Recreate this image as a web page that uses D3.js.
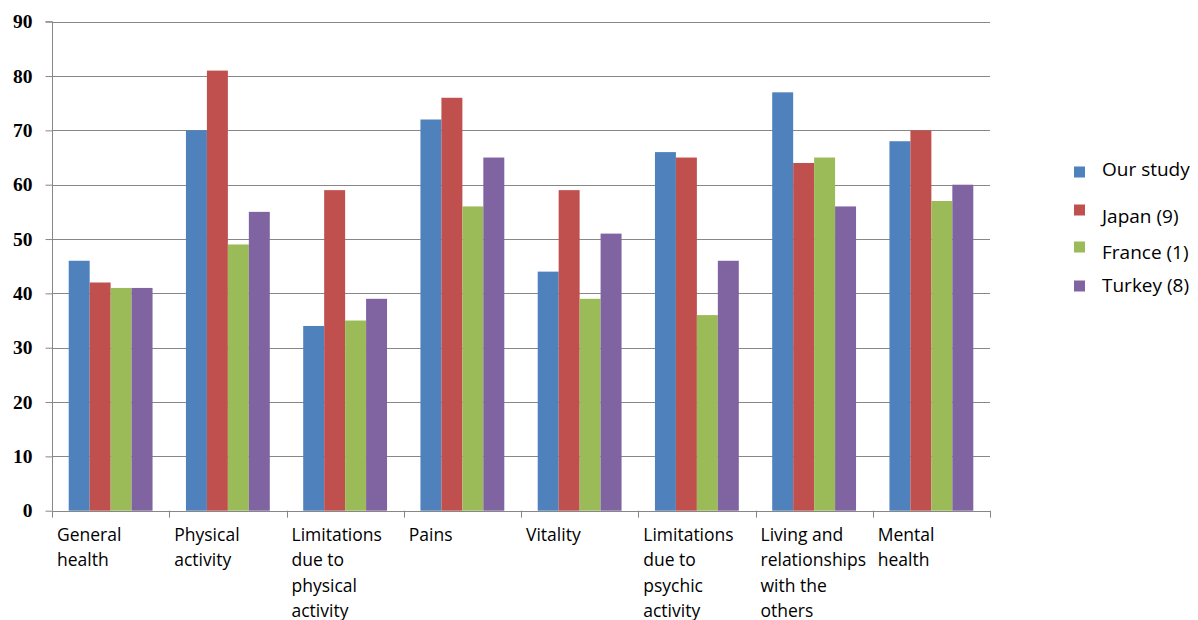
<!DOCTYPE html>
<html><head><meta charset="utf-8">
<script src="https://cdn.jsdelivr.net/npm/d3@7"></script>
<style>body{margin:0;background:#fff;} svg{display:block;}</style>
</head><body>
<svg id="c" width="1198" height="620"></svg>
<script>
const categories = [
  ["General","health"],
  ["Physical","activity"],
  ["Limitations","due to","physical","activity"],
  ["Pains"],
  ["Vitality"],
  ["Limitations","due to","psychic","activity"],
  ["Living and","relationships","with the","others"],
  ["Mental","health"]
];
const seriesNames = ["Our study","Japan (9)","France (1)","Turkey (8)"];
const ourStudy = [46,70,34,72,44,66,77,68];
const japan    = [42,81,59,76,59,65,64,70];
const france   = [41,49,35,56,39,36,65,57];
const turkey   = [41,55,39,65,51,46,56,60];
const yTicks = [0,10,20,30,40,50,60,70,80,90];
const colors = ["#4F81BD","#C0504D","#9BBB59","#8064A2"];

const series = [ourStudy, japan, france, turkey];
const svg = d3.select("#c");
const pLeft = 52, pRight = 990, pTop = 21.7, pBottom = 510.7;

const x = d3.scaleBand().domain(d3.range(categories.length)).range([pLeft, pRight]).paddingInner(0).paddingOuter(0);
const xs = d3.scaleBand().domain(d3.range(4)).range([16.7, x.bandwidth()-16.7]);
const y = d3.scaleLinear().domain([0,90]).range([pBottom, pTop]);

// gridlines
svg.append("g").selectAll("line").data(yTicks.filter(t=>t>0)).join("line")
  .attr("x1", pLeft).attr("x2", pRight)
  .attr("y1", d=>Math.round(y(d))+0.5).attr("y2", d=>Math.round(y(d))+0.5)
  .attr("stroke","#878787").attr("stroke-width",1);

// bars
const g = svg.append("g");
series.forEach((s, si) => {
  g.append("g").selectAll("rect").data(s).join("rect")
    .attr("x", (d,i)=> x(i) + xs(si))
    .attr("width", xs.bandwidth())
    .attr("y", d=>y(d))
    .attr("height", d=> pBottom - y(d))
    .attr("fill", colors[si]);
});

// y axis
const yAxis = d3.axisLeft(y).tickValues(yTicks).tickSize(7).tickPadding(13).tickFormat(d3.format("d"));
const ya = svg.append("g").attr("transform",`translate(${pLeft+0.5},0)`).call(yAxis);
ya.select(".domain").attr("stroke","#878787").attr("d",`M-7,${pTop}H0V${pBottom}`);
ya.selectAll(".tick line").attr("stroke","#878787");
ya.selectAll(".tick text").attr("font-family","'Liberation Serif', serif").attr("font-weight","bold")
  .attr("font-size","19.5px").attr("fill","#000");

// x axis
const bounds = d3.range(categories.length+1).map(i=> i<categories.length ? x(i) : pRight);
svg.append("line").attr("x1",pLeft).attr("x2",pRight).attr("y1",Math.round(pBottom)+0.5).attr("y2",Math.round(pBottom)+0.5)
  .attr("stroke","#878787");
svg.append("g").selectAll("line").data(bounds).join("line")
  .attr("x1",d=>Math.round(d)+0.5).attr("x2",d=>Math.round(d)+0.5)
  .attr("y1",pBottom).attr("y2",pBottom+7).attr("stroke","#878787");

// category labels
const lab = svg.append("g").attr("font-family","'Open Sans', sans-serif").attr("font-size","17.5px").attr("fill","#000");
categories.forEach((lines,i)=>{
  const t = lab.append("text").attr("x", x(i)+5).attr("y", 541);
  lines.forEach((ln,j)=> t.append("tspan").attr("x", x(i)+5).attr("dy", j===0?0:25.3).text(ln));
});

// legend
const legY = [172, 210, 247, 286];
const legTextY = [176, 223, 259, 292];
const leg = svg.append("g");
seriesNames.forEach((n,i)=>{
  leg.append("rect").attr("x",1074).attr("y",legY[i]-5.5).attr("width",11).attr("height",11).attr("fill",colors[i]);
  leg.append("text").attr("x",1102).attr("y",legTextY[i]).attr("font-family","'Open Sans', sans-serif")
    .attr("font-size","19px").attr("fill","#000").text(n);
});
</script>
</body></html>
